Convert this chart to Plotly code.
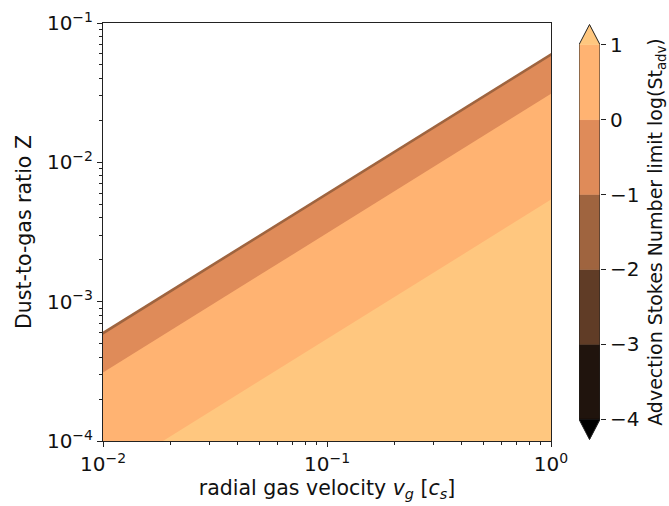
import numpy as np
import plotly.graph_objects as go

# Axis extents
vg_range = [1e-2, 1e0]
z_range = [1e-4, 1e-1]

# Contour levels of log10(St_adv) shown on the colour bar
cbar_levels = [-4, -3, -2, -1, 0, 1]

# Boundaries in the (v_g, Z) plane: each is a line Z = ratio * v_g.
# The first entry is the edge of the valid region, the others are where
# log10(St_adv) crosses -1, 0 and 1.
band_ratio = [0.061, 0.058, 0.031, 0.0054]
# Interval filled below each boundary (lower level of the interval)
band_level = [-2, -1, 0, 1]

# Tick labels
x_ticks = [1e-2, 1e-1, 1e0]
x_ticktext = ["10<sup>\u22122</sup>", "10<sup>\u22121</sup>", "10<sup>0</sup>"]
y_ticks = [1e-4, 1e-3, 1e-2, 1e-1]
y_ticktext = ["10<sup>\u22124</sup>", "10<sup>\u22123</sup>", "10<sup>\u22122</sup>", "10<sup>\u22121</sup>"]


def copper(v):
    r = min(1.0, 1.25 * v)
    g = 0.7812 * v
    b = 0.4975 * v
    return "rgb(%d,%d,%d)" % (round(r * 255), round(g * 255), round(b * 255))


vmin, vmax = cbar_levels[0], cbar_levels[-1]


def level_color(lo):
    # colour of the interval [lo, lo+1]; above the top level uses the "over" colour
    if lo >= vmax:
        return copper(1.0)
    if lo < vmin:
        return "rgb(0,0,0)"
    return copper(((lo + 0.5) - vmin) / (vmax - vmin))


fig = go.Figure()

# Filled bands, drawn from the top boundary downward so each overlays the previous
for ratio, lo in zip(band_ratio, band_level):
    xs = [vg_range[0], vg_range[1], vg_range[1], vg_range[0]]
    ys = [ratio * vg_range[0], ratio * vg_range[1], 1e-6, 1e-6]
    fig.add_trace(go.Scatter(
        x=xs, y=ys, mode="lines", fill="toself", fillcolor=level_color(lo),
        line=dict(width=0, color=level_color(lo)), hoverinfo="skip",
        showlegend=False, xaxis="x", yaxis="y"))

# Colour bar drawn on its own axes
tip = 0.27
for lo, hi in zip(cbar_levels[:-1], cbar_levels[1:]):
    fig.add_trace(go.Scatter(
        x=[0, 1, 1, 0], y=[lo, lo, hi, hi], mode="lines", fill="toself",
        fillcolor=level_color(lo), line=dict(width=0.5, color=level_color(lo)),
        hoverinfo="skip", showlegend=False, xaxis="x2", yaxis="y2"))
# extension triangles
fig.add_trace(go.Scatter(
    x=[0, 1, 0.5], y=[vmax, vmax, vmax + tip], mode="lines", fill="toself",
    fillcolor=level_color(vmax), line=dict(width=0.5, color=level_color(vmax)),
    hoverinfo="skip", showlegend=False, xaxis="x2", yaxis="y2"))
fig.add_trace(go.Scatter(
    x=[0, 1, 0.5], y=[vmin, vmin, vmin - tip], mode="lines", fill="toself",
    fillcolor=level_color(vmin - 1), line=dict(width=0.5, color=level_color(vmin - 1)),
    hoverinfo="skip", showlegend=False, xaxis="x2", yaxis="y2"))
# outline
fig.add_trace(go.Scatter(
    x=[0, 0, 0.5, 1, 1, 0.5, 0], y=[vmin, vmax, vmax + tip, vmax, vmin, vmin - tip, vmin],
    mode="lines", line=dict(width=1, color="#222"), hoverinfo="skip",
    showlegend=False, xaxis="x2", yaxis="y2"))

W, H = 669, 506
ml, mr, mt, mb = 103, 69, 23, 65
pw = W - ml - mr
main_right = (551 - ml) / pw
cb_left = (579 - ml) / pw

font = "DejaVu Sans"
tick_font = dict(family=font, size=20, color="#111")
minor_x = [k * 10.0 ** e for e in (-2, -1) for k in range(2, 10)]
minor_y = [k * 10.0 ** e for e in (-4, -3, -2) for k in range(2, 10)]

fig.update_layout(
    width=W, height=H,
    margin=dict(l=ml, r=mr, t=mt, b=mb, autoexpand=False),
    paper_bgcolor="white", plot_bgcolor="white",
    font=dict(family=font, color="#111"),
    xaxis=dict(
        type="log", range=[np.log10(vg_range[0]), np.log10(vg_range[1])],
        domain=[0, main_right], tickvals=x_ticks, ticktext=x_ticktext,
        ticks="outside", ticklen=5, tickwidth=1, tickcolor="#222",
        minor=dict(tickvals=minor_x, ticks="outside", ticklen=3, tickwidth=0.8,
                   tickcolor="#222", showgrid=False),
        showline=True, linecolor="#222", linewidth=1, mirror=True,
        showgrid=False, zeroline=False, tickfont=tick_font, automargin=False,
        title=dict(text="radial gas velocity <i>v<sub>g</sub></i> [<i>c<sub>s</sub></i>]",
                   font=dict(family=font, size=20.5, color="#111"), standoff=4),
        anchor="y"),
    yaxis=dict(
        type="log", range=[np.log10(z_range[0]), np.log10(z_range[1])],
        domain=[0, 1], tickvals=y_ticks, ticktext=y_ticktext,
        ticks="outside", ticklen=5, tickwidth=1, tickcolor="#222",
        minor=dict(tickvals=minor_y, ticks="outside", ticklen=3, tickwidth=0.8,
                   tickcolor="#222", showgrid=False),
        showline=True, linecolor="#222", linewidth=1, mirror=True,
        showgrid=False, zeroline=False, tickfont=tick_font, automargin=False,
        title=dict(text="Dust-to-gas ratio Z",
                   font=dict(family=font, size=20.5, color="#111"), standoff=9),
        anchor="x"),
    xaxis2=dict(
        domain=[cb_left, 1], range=[0, 1], showgrid=False, zeroline=False,
        showticklabels=False, ticks="", showline=False, anchor="y2", automargin=False),
    yaxis2=dict(
        domain=[0, 1], range=[vmin - tip - 0.02, vmax + tip + 0.02], side="right",
        anchor="x2", tickvals=cbar_levels,
        ticktext=[str(v).replace("-", "\u2212") for v in cbar_levels],
        ticks="outside", ticklen=5, tickwidth=1, tickcolor="#222",
        showgrid=False, zeroline=False, showline=False, tickfont=tick_font,
        automargin=False,
        title=dict(text="Advection Stokes Number limit log(St<sub>adv</sub>)",
                   font=dict(family=font, size=19, color="#111"), standoff=11)),
)

fig.write_html("out.html")
